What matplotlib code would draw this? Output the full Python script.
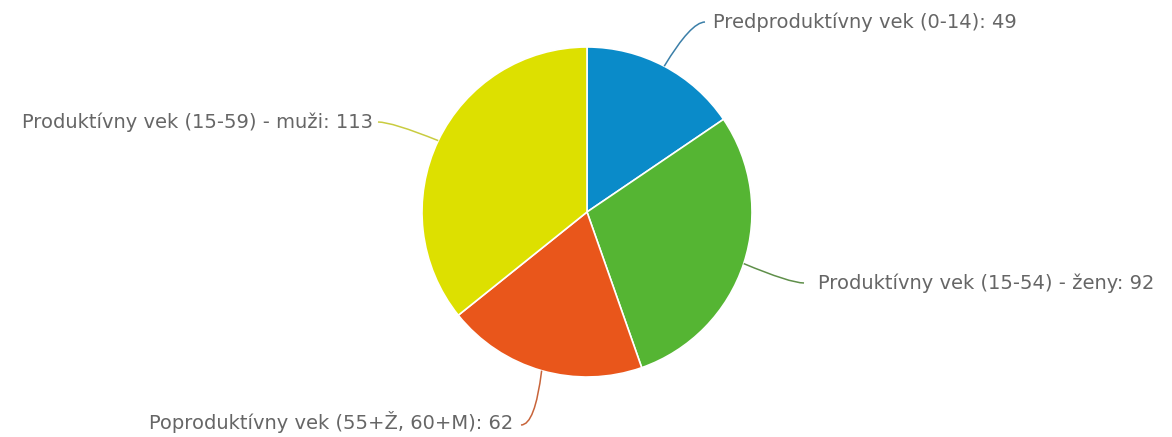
import matplotlib
matplotlib.use("Agg")
import numpy as np
import matplotlib.pyplot as plt
from matplotlib.path import Path
from matplotlib.patches import PathPatch

labels = ["Predproduktívny vek (0-14)",
          "Produktívny vek (15-54) - ženy",
          "Poproduktívny vek (55+Ž, 60+M)",
          "Produktívny vek (15-59) - muži"]
values = [49, 92, 62, 113]
colors = ["#0a8bc9", "#55b533", "#e9561b", "#dde000"]
line_colors = ["#3b7fa8", "#5f8f4a", "#c8643a", "#c9cc40"]

# layout (pixels): text anchor x, y, alignment, connector end x
cx, cy, r = 587, 212, 165
label_pos = [(713, 22, "left", 705), (818, 283, "left", 804),
             (513, 422, "right", 521), (373, 122, "right", 378)]

fig = plt.figure(figsize=(11.72, 4.37), dpi=100)
ax = fig.add_axes([0, 0, 1, 1])
ax.pie(values, colors=colors, startangle=-90, counterclock=True,
       center=(cx, cy), radius=r,
       wedgeprops=dict(edgecolor="white", linewidth=1.2))
ax.set_xlim(0, 1172)
ax.set_ylim(437, 0)
ax.set_aspect("equal")
ax.axis("off")

total = sum(values)
cum = np.cumsum(values) - np.array(values) / 2
for i, (lab, v) in enumerate(zip(labels, values)):
    phi = np.deg2rad(cum[i] / total * 360)
    sx = cx + r * np.sin(phi)
    sy = cy - r * np.cos(phi)
    tx, ty, ha, ex = label_pos[i]
    d = 1 if ha == "left" else -1
    ey = ty + (3 if i == 2 else 0)
    ctrl = (ex - 14 * d, ey)
    path = Path([(sx, sy), ctrl, (ex, ey)], [Path.MOVETO, Path.CURVE3, Path.CURVE3])
    ax.add_patch(PathPatch(path, facecolor="none", edgecolor=line_colors[i], lw=1.1))
    ax.text(tx, ty, f"{lab}: {v}", ha=ha, va="center", fontsize=14,
            color="#666666", family="DejaVu Sans")

fig.savefig("out.png", dpi=100, facecolor="white")
